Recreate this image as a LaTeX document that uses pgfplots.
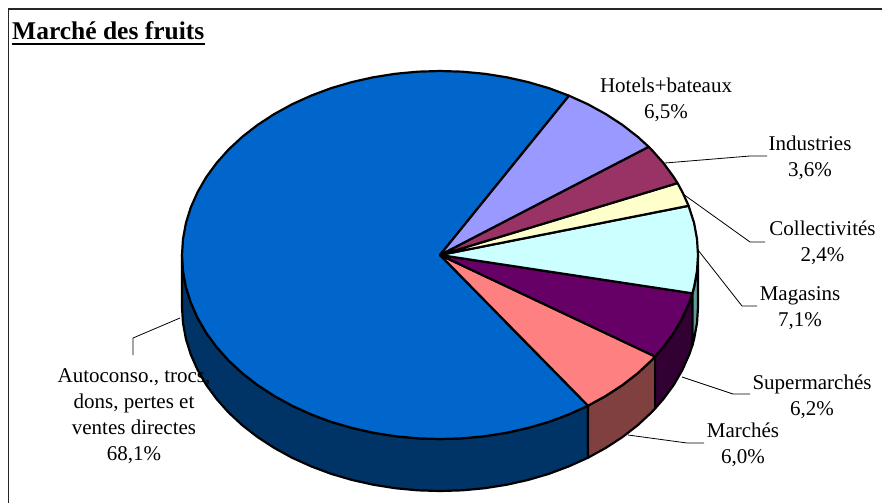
\documentclass[border=0pt]{standalone}
\usepackage{fontspec}
\setmainfont{Liberation Serif}
\usepackage{pgfplots}
\pgfplotsset{compat=1.18}

% pie faces
\definecolor{cauto}{HTML}{0066CC}
\definecolor{chotel}{HTML}{9999FF}
\definecolor{cindus}{HTML}{993366}
\definecolor{ccoll}{HTML}{FFFFCC}
\definecolor{cmag}{HTML}{CCFFFF}
\definecolor{csuper}{HTML}{660066}
\definecolor{cmarche}{HTML}{FF8080}
% rim, half as bright
\definecolor{rauto}{HTML}{003366}
\definecolor{rmag}{HTML}{669999}
\definecolor{rsuper}{HTML}{330033}
\definecolor{rmarche}{HTML}{804040}

\tikzset{
    slice/.style={draw=black, line width=2.2pt, line join=round},
    leader/.style={draw=black, line width=0.8pt},
    lab/.style={font=\fontsize{21}{26}\selectfont, align=center, inner sep=0pt, text=black},
}

\begin{document}
\begin{tikzpicture}
\begin{axis}[
    scale only axis,
    width=882pt, height=503pt,
    xmin=0, xmax=882,
    ymin=0, ymax=503,
    y dir=reverse,
    hide axis,
    clip=true,
    every axis plot/.append style={no markers},
]

% frame: only top and left show
\addplot[draw=black!85, line width=1.8pt] coordinates {(882,9) (8.5,9) (8.5,503)};

% rim
\addplot[slice, fill=rauto] coordinates {
    (182,255) (183,271) (185.9,286.9) (190.8,302.6) (197.6,317.9) (206.2,332.8)
    (216.6,347) (228.6,360.5) (242.4,373.3) (257.6,385.1) (274.2,395.9) (292,405.7)
    (311,414.3) (331,421.8) (351.8,427.9) (373.2,432.7) (395.2,436.2) (417.5,438.3)
    (440,439) (462.5,438.3) (484.8,436.2) (506.8,432.7) (528.2,427.9) (549,421.8)
    (569,414.3) (588,405.7)
    (588,457.7) (569,466.3) (549,473.8) (528.2,479.9) (506.8,484.7) (484.8,488.2)
    (462.5,490.3) (440,491) (417.5,490.3) (395.2,488.2) (373.2,484.7) (351.8,479.9)
    (331,473.8) (311,466.3) (292,457.7) (274.2,447.9) (257.6,437.1) (242.4,425.3)
    (228.6,412.5) (216.6,399) (206.2,384.8) (197.6,369.9) (190.8,354.6) (185.9,338.9)
    (183,323) (182,307)
} -- cycle;
\addplot[slice, fill=rmarche] coordinates {
    (588,405.7) (605.8,395.9) (622.4,385.1) (637.6,373.3) (651.4,360.5) (655.1,356.5)
    (655.1,408.5) (651.4,412.5) (637.6,425.3) (622.4,437.1) (605.8,447.9) (588,457.7)
} -- cycle;
\addplot[slice, fill=rsuper] coordinates {
    (655.1,356.5) (663.4,347) (673.8,332.8) (682.4,317.9) (689.2,302.6) (692.4,293.3)
    (692.4,345.3) (689.2,354.6) (682.4,369.9) (673.8,384.8) (663.4,399) (655.1,408.5)
} -- cycle;
\addplot[slice, fill=rmag] coordinates {
    (692.4,293.3) (694.1,286.9) (697,271) (698,255)
    (698,307) (697,323) (694.1,338.9) (692.4,345.3)
} -- cycle;

% top face, going round anticlockwise
\addplot[slice, fill=cauto] coordinates {
    (440,255) (569,95.7) (549,88.2) (528.2,82.1) (506.8,77.3) (484.8,73.8) (462.5,71.7)
    (440,71) (417.5,71.7) (395.2,73.8) (373.2,77.3) (351.8,82.1) (331,88.2) (311,95.7)
    (292,104.3) (274.2,114.1) (257.6,124.9) (242.4,136.7) (228.6,149.5) (216.6,163)
    (206.2,177.2) (197.6,192.1) (190.8,207.4) (185.9,223.1) (183,239) (182,255)
    (183,271) (185.9,286.9) (190.8,302.6) (197.6,317.9) (206.2,332.8) (216.6,347)
    (228.6,360.5) (242.4,373.3) (257.6,385.1) (274.2,395.9) (292,405.7) (311,414.3)
    (331,421.8) (351.8,427.9) (373.2,432.7) (395.2,436.2) (417.5,438.3) (440,439)
    (462.5,438.3) (484.8,436.2) (506.8,432.7) (528.2,427.9) (549,421.8) (569,414.3)
    (588,405.7)
} -- cycle;
\addplot[slice, fill=cmarche] coordinates {
    (440,255) (588,405.7) (605.8,395.9) (622.4,385.1) (637.6,373.3) (651.4,360.5) (655.1,356.5)
} -- cycle;
\addplot[slice, fill=csuper] coordinates {
    (440,255) (655.1,356.5) (663.4,347) (673.8,332.8) (682.4,317.9) (689.2,302.6) (692.4,293.3)
} -- cycle;
\addplot[slice, fill=cmag] coordinates {
    (440,255) (692.4,293.3) (694.1,286.9) (697,271) (698,255) (697,239) (694.1,223.1) (688.6,205.8)
} -- cycle;
\addplot[slice, fill=ccoll] coordinates {
    (440,255) (688.6,205.8) (682.4,192.1) (677.5,183.1)
} -- cycle;
\addplot[slice, fill=cindus] coordinates {
    (440,255) (677.5,183.1) (673.8,177.2) (663.4,163) (651.4,149.5) (648.7,146.8)
} -- cycle;
\addplot[slice, fill=chotel] coordinates {
    (440,255) (648.7,146.8) (637.6,136.7) (622.4,124.9) (605.8,114.1) (588,104.3) (569,95.7)
} -- cycle;

% leader lines
\addplot[leader] coordinates {(665,163) (750,156) (767,156)};
\addplot[leader] coordinates {(683,194) (750,242) (765,242)};
\addplot[leader] coordinates {(698,250) (742,306) (757,306)};
\addplot[leader] coordinates {(682,377) (733,394) (750,394)};
\addplot[leader] coordinates {(628,435) (687,443) (704,443)};
\addplot[leader] coordinates {(180,318) (133,338) (133,355)};

% title underline
\addplot[draw=black, line width=2.6pt] coordinates {(12,44) (205,44)};

\node[font=\fontsize{25.5}{30}\selectfont\bfseries, anchor=base west, inner sep=0pt] at (axis cs:12,40) {Marché des fruits};
\node[lab] at (axis cs:666,100) {Hotels+bateaux\\6,5\%};
\node[lab] at (axis cs:810,158) {Industries\\3,6\%};
\node[lab] at (axis cs:822.5,243) {Collectivités\\2,4\%};
\node[lab] at (axis cs:800,308) {Magasins\\7,1\%};
\node[lab] at (axis cs:812,397) {Supermarchés\\6,2\%};
\node[lab] at (axis cs:743,445) {Marchés\\6,0\%};
\node[lab] at (axis cs:134,416) {Autoconso., trocs,\\dons, pertes et\\ventes directes\\68,1\%};
\end{axis}
% page is the whole axis box, not only what was drawn
\pgfresetboundingbox
\path[use as bounding box] (current axis.south west) rectangle (current axis.north east);
\end{tikzpicture}
\end{document}
